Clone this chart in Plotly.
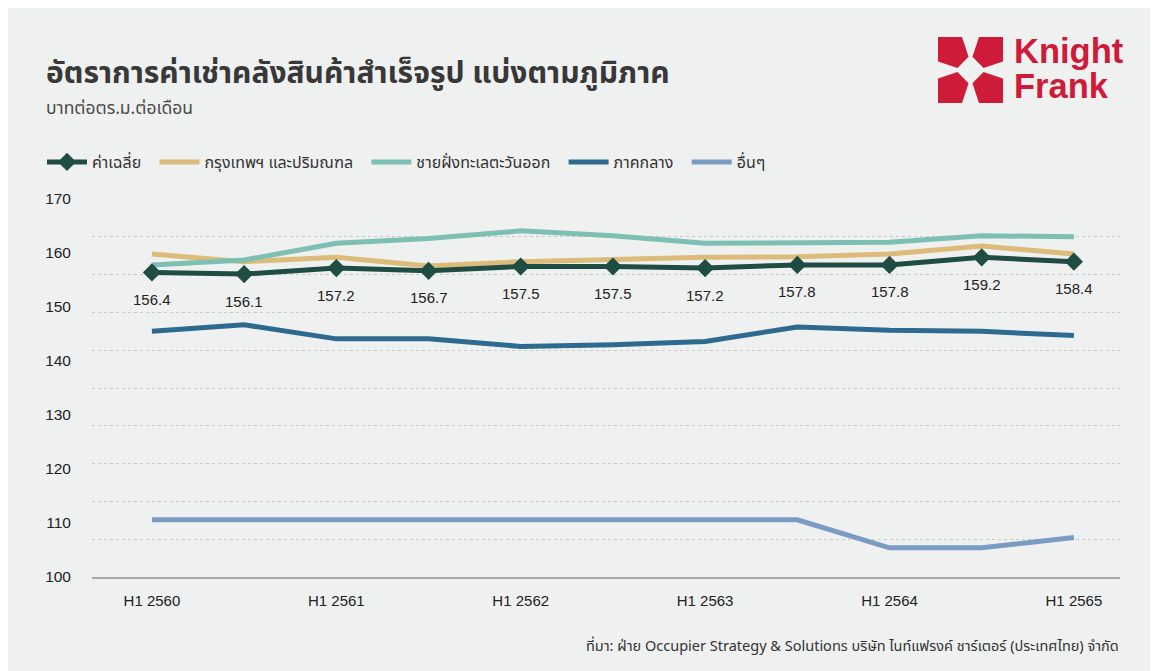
import plotly.graph_objects as go

# ---------------- data ----------------
periods = ["H1 2560", "H2 2560", "H1 2561", "H2 2561", "H1 2562", "H2 2562",
           "H1 2563", "H2 2563", "H1 2564", "H2 2564", "H1 2565"]
tick_labels = ["H1 2560", "H1 2561", "H1 2562", "H1 2563", "H1 2564", "H1 2565"]
y_tick_values = [100, 110, 120, 130, 140, 150, 160, 170]
grid_values = [100, 107, 114, 121, 128, 135, 142, 149, 156, 163, 170]

average = [156.4, 156.1, 157.2, 156.7, 157.5, 157.5, 157.2, 157.8, 157.8, 159.2, 158.4]
bangkok = [159.8, 158.4, 159.2, 157.6, 158.4, 158.9, 159.2, 159.3, 159.8, 161.3, 159.8]
eastern = [157.8, 158.7, 161.8, 162.7, 164.1, 163.2, 161.8, 162.0, 162.0, 163.2, 163.0]
central = [145.5, 146.7, 144.1, 144.1, 142.7, 143.0, 143.6, 146.3, 145.7, 145.5, 144.7]
others = [110.6, 110.6, 110.6, 110.6, 110.6, 110.6, 110.6, 110.6, 105.4, 105.4, 107.3]

names = {
    "avg": "ค่าเฉลี่ย",
    "bkk": "กรุงเทพฯ และปริมณฑล",
    "east": "ชายฝั่งทะเลตะวันออก",
    "central": "ภาคกลาง",
    "others": "อื่นๆ",
}
title_text = "อัตราการค่าเช่าคลังสินค้าสำเร็จรูป แบ่งตามภูมิภาค"
subtitle_text = "บาทต่อตร.ม.ต่อเดือน"
source_text = "ที่มา: ฝ่าย Occupier Strategy & Solutions บริษัท ไนท์แฟรงค์ ชาร์เตอร์ (ประเทศไทย) จำกัด"

# ---------------- style ----------------
OFF = 8                      # page body margin
W, H = 1150, 663
L, R, T, B = 84, 38, 191, 94
PW, PH = W - L - R, H - T - B
BG = "#EFF0F0"
RED = "#CE1B3A"
C_AVG, C_BKK, C_EAST, C_CEN, C_OTH = "#1F4C43", "#DCBB7B", "#7DBFB3", "#2E6A8F", "#7C9BC3"
THAI = "Noto Sans Thai, Noto Sans Thai UI, Noto Sans, DejaVu Sans, sans-serif"
NUM = "Liberation Sans, Arial, sans-serif"
LOGO = "Liberation Sans Narrow, Arial Narrow, Liberation Sans, sans-serif"
PAD = "\u00a0\u00a0"          # visual spacing after legend labels


def px(xs):
    """screen x pixel -> paper coordinate"""
    return (xs - OFF - L) / PW


def py(ys):
    """screen y pixel -> paper coordinate"""
    return (H - B - (ys - OFF)) / PH


fig = go.Figure()
lw = 5
fig.add_trace(go.Scatter(x=periods, y=bangkok, name=names["bkk"] + PAD, mode="lines",
                         line=dict(color=C_BKK, width=lw), legendrank=2))
fig.add_trace(go.Scatter(x=periods, y=eastern, name=names["east"] + PAD, mode="lines",
                         line=dict(color=C_EAST, width=lw), legendrank=3))
fig.add_trace(go.Scatter(x=periods, y=central, name=names["central"] + PAD, mode="lines",
                         line=dict(color=C_CEN, width=lw), legendrank=4))
fig.add_trace(go.Scatter(x=periods, y=others, name=names["others"] + PAD, mode="lines",
                         line=dict(color=C_OTH, width=lw), legendrank=5))
fig.add_trace(go.Scatter(x=periods, y=average, name=names["avg"] + PAD, mode="lines+markers",
                         line=dict(color=C_AVG, width=lw),
                         marker=dict(symbol="diamond", size=14, color=C_AVG),
                         legendrank=1))
# invisible carrier for the dotted grid axis
fig.add_trace(go.Scatter(x=periods, y=average, yaxis="y2", mode="lines",
                         line=dict(width=0, color="rgba(0,0,0,0)"),
                         showlegend=False, hoverinfo="skip"))

annotations = []
for p, v in zip(periods, average):
    annotations.append(dict(x=p, y=v, xref="x", yref="y", text=f"{v:.1f}",
                            showarrow=False, yshift=-27,
                            font=dict(family=NUM, size=15, color="#222222")))

annotations += [
    dict(x=px(44), y=py(74), xref="paper", yref="paper", xanchor="left", yanchor="middle",
         text=f"<b>{title_text}</b>", showarrow=False,
         font=dict(family=THAI, size=30, color="#383838")),
    dict(x=px(44), y=py(108), xref="paper", yref="paper", xanchor="left", yanchor="middle",
         text=subtitle_text, showarrow=False,
         font=dict(family=THAI, size=17.5, color="#4a4a4a")),
    dict(x=px(1121), y=py(647), xref="paper", yref="paper", xanchor="right", yanchor="middle",
         text=source_text, showarrow=False,
         font=dict(family=THAI, size=14.5, color="#333333")),
    dict(x=px(1012), y=py(51), xref="paper", yref="paper", xanchor="left", yanchor="middle",
         text="<b>Knight</b>", showarrow=False,
         font=dict(family=LOGO, size=34.5, color=RED)),
    dict(x=px(1012), y=py(86), xref="paper", yref="paper", xanchor="left", yanchor="middle",
         text="<b>Frank</b>", showarrow=False,
         font=dict(family=LOGO, size=34.5, color=RED)),
]

# Knight Frank icon: four red pentagons inside a square
x0, x1, y0, y1 = 938, 1003, 37, 103
wq, hq = x1 - x0, y1 - y0
piece = [(0, 0), (0.37, 0), (0.47, 0.30), (0.30, 0.47), (0, 0.37)]
shapes = []
for fx, fy in [(False, False), (True, False), (False, True), (True, True)]:
    pts = []
    for a, b in piece:
        a2 = 1 - a if fx else a
        b2 = 1 - b if fy else b
        pts.append((px(x0 + a2 * wq), py(y0 + b2 * hq)))
    path = "M " + " L ".join(f"{a:.5f},{b:.5f}" for a, b in pts) + " Z"
    shapes.append(dict(type="path", path=path, xref="paper", yref="paper",
                       fillcolor=RED, line=dict(width=0)))

fig.update_layout(
    width=W, height=H,
    margin=dict(l=L, r=R, t=T, b=B, autoexpand=False),
    paper_bgcolor=BG, plot_bgcolor=BG,
    showlegend=True,
    legend=dict(orientation="h", x=px(42), y=py(145), xanchor="left", yanchor="top",
                font=dict(family=THAI, size=16, color="#333333"),
                itemwidth=40,
                bgcolor="rgba(0,0,0,0)", traceorder="normal"),
    xaxis=dict(type="category", range=[-0.65, 10.5], tickmode="array", tickvals=tick_labels,
               ticktext=tick_labels, showgrid=False, zeroline=False,
               showline=True, linecolor="#A8A8A8", linewidth=2,
               ticks="", ticklabelstandoff=9,
               tickfont=dict(family=NUM, size=15, color="#222222")),
    yaxis=dict(range=[100, 170], tickmode="array", tickvals=y_tick_values,
               showgrid=False, zeroline=False, showline=False, ticks="",
               ticklabelstandoff=20,
               tickfont=dict(family=NUM, size=15.5, color="#222222")),
    yaxis2=dict(range=[100, 170], overlaying="y", tickmode="array", tickvals=grid_values,
                showticklabels=False, showgrid=True, gridcolor="#C9C9C9", gridwidth=1,
                griddash="dot", zeroline=False, showline=False, ticks=""),
    annotations=annotations,
    shapes=shapes,
    hovermode=False,
)

fig.write_html("out.html")
